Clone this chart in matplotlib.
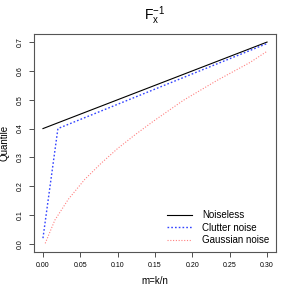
import matplotlib
matplotlib.use("Agg")
import matplotlib.pyplot as plt

plt.rcParams['font.family'] = ['Liberation Sans', 'DejaVu Sans']
plt.rcParams['mathtext.fontset'] = 'custom'
plt.rcParams['mathtext.rm'] = 'Liberation Sans'
plt.rcParams['mathtext.it'] = 'Liberation Sans'

# noiseless
m_clean = [0.0, 0.30]
q_clean = [0.40, 0.70]

# clutter noise
m_clutter = [0.0, 0.02, 0.30]
q_clutter = [0.02, 0.40, 0.695]

# gaussian noise
m_gauss = [0.003, 0.016, 0.034, 0.056, 0.078, 0.100, 0.123, 0.147, 0.188, 0.233, 0.277, 0.300]
q_gauss = [0.002, 0.083, 0.155, 0.224, 0.280, 0.331, 0.378, 0.424, 0.498, 0.567, 0.629, 0.668]

xticks = [0.0, 0.05, 0.10, 0.15, 0.20, 0.25, 0.30]
yticks = [0.0, 0.1, 0.2, 0.3, 0.4, 0.5, 0.6, 0.7]

fig = plt.figure(figsize=(2.94, 2.94), dpi=100)
ax = fig.add_axes([34/294, 42/294, 242/294, 218/294])

ax.plot(m_clean, q_clean, color='black', lw=0.8, label='Noiseless')
ax.plot(m_clutter, q_clutter, color='#3344ff', lw=1.0, linestyle=(0, (1.2, 1.5)), label='Clutter noise')
ax.plot(m_gauss, q_gauss, color='#ff8080', lw=0.8, linestyle=(0, (1, 1.5)), label='Gaussian noise')

ax.set_xlim(-0.012, 0.312)
ax.set_ylim(-0.028, 0.728)
ax.set_xticks(xticks)
ax.set_xticklabels(['%.2f' % v for v in xticks], fontsize=5)
ax.set_yticks(yticks)
ax.set_yticklabels(['%.1f' % v for v in yticks], fontsize=5, rotation=90, va='center')
ax.tick_params(length=3.5, width=0.6, pad=4, color='#333333')
for s in ax.spines.values():
    s.set_color('#555555')
    s.set_linewidth(0.8)

ax.set_xlabel('m=k/n', fontsize=7, labelpad=5)
ax.set_ylabel('Quantile', fontsize=7, labelpad=5)
ax.set_title(r'$\mathrm{F}_x^{-1}$', fontsize=10, pad=10)

ax.legend(loc='lower right', frameon=False, fontsize=7, handlelength=2.6,
          labelspacing=0.25, borderaxespad=0.3, handletextpad=1.0)

fig.savefig('out.png', dpi=100)
